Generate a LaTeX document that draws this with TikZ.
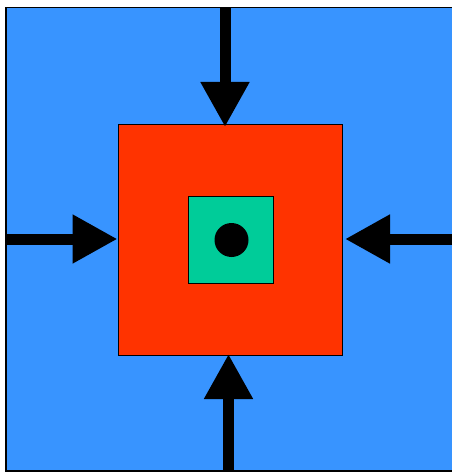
\documentclass[tikz,border=0pt]{standalone}
\usetikzlibrary{arrows.meta}
\definecolor{bgblue}{RGB}{56,148,255}
\definecolor{boxred}{RGB}{255,51,0}
\definecolor{boxgreen}{RGB}{0,204,153}
\begin{document}
\begin{tikzpicture}[x=1pt,y=-1pt,
  frame/.style={draw=black,line width=1.4pt},
  push/.style={line width=11pt,-{Triangle[width=46pt,length=45pt]}}]
\useasboundingbox (0,0) rectangle (451,473);
\path[fill=bgblue,frame] (6,7.5) rectangle (460,471);
\node[fill=boxred,frame,minimum width=224pt,minimum height=231pt,inner sep=0pt,anchor=north west] (red) at (118,124) {};
\node[fill=boxgreen,frame,minimum width=85pt,minimum height=87pt,inner sep=0pt,anchor=north west] (green) at (187.5,196) {};
\node[fill=black,circle,minimum size=34pt,inner sep=0pt] (dot) at (231.5,240) {};
\coordinate (topS) at (225,8.5);
\coordinate (topE) at (225,127);
\coordinate (leftS) at (6.5,239);
\coordinate (leftE) at (117.5,239);
\coordinate (rightS) at (455,239);
\coordinate (rightE) at (345,239);
\coordinate (botS) at (228.5,470.5);
\coordinate (botE) at (228.5,354);
\draw[push] (topS) -- (topE);
\draw[push] (leftS) -- (leftE);
\draw[push] (rightS) -- (rightE);
\draw[push] (botS) -- (botE);
\end{tikzpicture}
\end{document}
